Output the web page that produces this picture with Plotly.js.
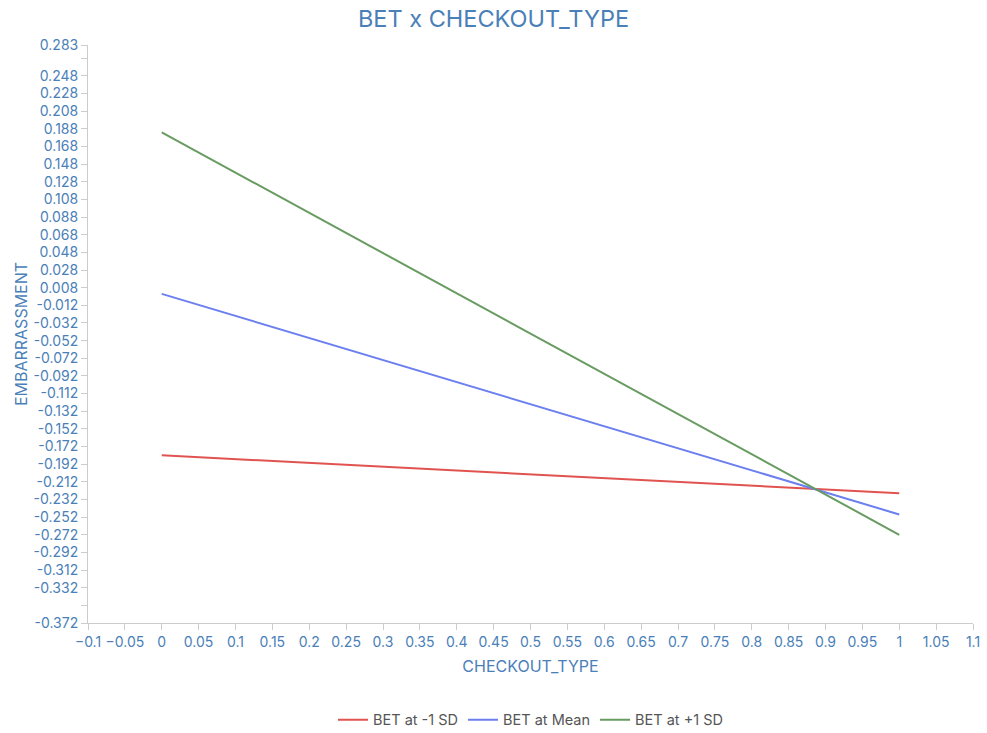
<!DOCTYPE html>
<html>
<head>
<meta charset="utf-8">
<script src="https://cdn.plot.ly/plotly-3.0.1.min.js"></script>
<style>html,body{margin:0;padding:0;background:#fff;}#chart{width:987px;height:733px;}</style>
</head>
<body>
<div id="chart"></div>
<script>
const xValues = [0, 1];
const seriesNames = ["BET at -1 SD", "BET at Mean", "BET at +1 SD"];
const lowSD = [-0.182, -0.225];
const meanSD = [0.001, -0.249];
const highSD = [0.184, -0.272];
const seriesColors = ["#e0534f", "#6b7ff0", "#679b60"];

const yTickVals = [0.283, 0.268, 0.248, 0.228, 0.208, 0.188, 0.168, 0.148, 0.128, 0.108, 0.088, 0.068, 0.048, 0.028, 0.008, -0.012, -0.032, -0.052, -0.072, -0.092, -0.112, -0.132, -0.152, -0.172, -0.192, -0.212, -0.232, -0.252, -0.272, -0.292, -0.312, -0.332, -0.352, -0.372];
const yTickText = ["0.283", "", "0.248", "0.228", "0.208", "0.188", "0.168", "0.148", "0.128", "0.108", "0.088", "0.068", "0.048", "0.028", "0.008", "-0.012", "-0.032", "-0.052", "-0.072", "-0.092", "-0.112", "-0.132", "-0.152", "-0.172", "-0.192", "-0.212", "-0.232", "-0.252", "-0.272", "-0.292", "-0.312", "-0.332", "", "-0.372"];

const allSeries = [lowSD, meanSD, highSD];
const textColor = "#4a80b8";
const traces = allSeries.map((ys, i) => ({
  x: xValues, y: ys, type: "scatter", mode: "lines", name: seriesNames[i],
  line: {color: seriesColors[i], width: 2}
}));

const layout = {
  width: 987, height: 733,
  margin: {l: 88, r: 14, t: 45, b: 110, autoexpand: false},
  paper_bgcolor: "#fff", plot_bgcolor: "#fff",
  font: {family: "Inter, Roboto, sans-serif", size: 14, color: textColor},
  title: {text: "BET x CHECKOUT_TYPE", x: 0.5, xanchor: "center", y: 0.974, yanchor: "middle",
          font: {size: 23.5, color: textColor}},
  xaxis: {
    range: [-0.1, 1.1], dtick: 0.05, tick0: 0, showgrid: false, zeroline: false,
    showline: true, linecolor: "#cccccc", linewidth: 1,
    ticks: "outside", ticklen: 6, tickcolor: "#cccccc",
    tickfont: {size: 14, color: textColor},
    title: {text: "CHECKOUT_TYPE", font: {size: 16, color: textColor}, standoff: 12}
  },
  yaxis: {
    range: [-0.372, 0.283], tickmode: "array", tickvals: yTickVals, ticktext: yTickText,
    showgrid: false, zeroline: false, showline: true, linecolor: "#cccccc", linewidth: 1,
    ticks: "outside", ticklen: 6, tickcolor: "#cccccc",
    tickfont: {size: 14, color: textColor},
    title: {text: "EMBARRASSMENT", font: {size: 16, color: textColor}, standoff: 1}
  },
  showlegend: true,
  legend: {orientation: "h", x: 0.5, xanchor: "center", yref: "container", y: 0.018, yanchor: "middle",
           itemwidth: 30, font: {size: 14.5, color: "#555"}}
};
Plotly.newPlot("chart", traces, layout, {displayModeBar: false});
</script>
</body>
</html>
